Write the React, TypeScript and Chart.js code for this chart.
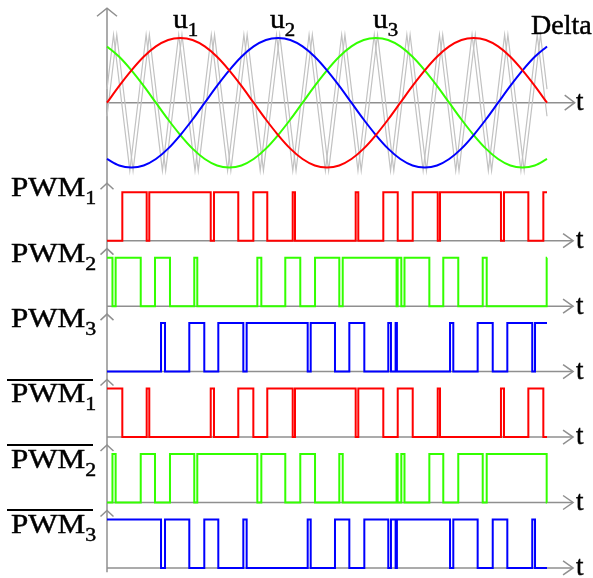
import React, { useEffect, useRef } from 'react';
import { Chart, registerables } from 'chart.js';

Chart.register(...registerables);

// ---------------- data (angle in degrees of the reference wave) ----------------
const theta = [0, 15, 30, 45, 60, 75, 90, 105, 120, 135, 150, 165, 180, 195, 210, 225, 240, 255, 270, 285, 300, 315, 330, 345, 360, 375, 390, 405, 420, 435, 450, 465, 480, 495, 510, 525, 540];
const u1 = [0, 0.26, 0.5, 0.71, 0.87, 0.97, 1, 0.97, 0.87, 0.71, 0.5, 0.26, 0, -0.26, -0.5, -0.71, -0.87, -0.97, -1, -0.97, -0.87, -0.71, -0.5, -0.26, 0, 0.26, 0.5, 0.71, 0.87, 0.97, 1, 0.97, 0.87, 0.71, 0.5, 0.26, 0];
const u2 = [-0.87, -0.97, -1, -0.97, -0.87, -0.71, -0.5, -0.26, 0, 0.26, 0.5, 0.71, 0.87, 0.97, 1, 0.97, 0.87, 0.71, 0.5, 0.26, 0, -0.26, -0.5, -0.71, -0.87, -0.97, -1, -0.97, -0.87, -0.71, -0.5, -0.26, 0, 0.26, 0.5, 0.71, 0.87];
const u3 = [0.87, 0.71, 0.5, 0.26, 0, -0.26, -0.5, -0.71, -0.87, -0.97, -1, -0.97, -0.87, -0.71, -0.5, -0.26, 0, 0.26, 0.5, 0.71, 0.87, 0.97, 1, 0.97, 0.87, 0.71, 0.5, 0.26, 0, -0.26, -0.5, -0.71, -0.87, -0.97, -1, -0.97, -0.87];

// triangular carrier "Delta" (drawn as two slightly shifted traces, as in the picture)
const carrierTimesA = [0, 8, 28, 48, 68, 88, 108, 128, 148, 168, 188, 208, 228, 248, 268, 288, 308, 328, 348, 368, 388, 408, 428, 448, 468, 488, 508, 528, 540];
const carrierValuesA = [0.21, 1.05, -1.05, 1.05, -1.05, 1.05, -1.05, 1.05, -1.05, 1.05, -1.05, 1.05, -1.05, 1.05, -1.05, 1.05, -1.05, 1.05, -1.05, 1.05, -1.05, 1.05, -1.05, 1.05, -1.05, 1.05, -1.05, 1.05, -0.21];
const carrierTimesB = [0, 12, 32, 52, 72, 92, 112, 132, 152, 172, 192, 212, 232, 252, 272, 292, 312, 332, 352, 372, 392, 412, 432, 452, 472, 492, 512, 532, 540];
const carrierValuesB = [-0.21, 1.05, -1.05, 1.05, -1.05, 1.05, -1.05, 1.05, -1.05, 1.05, -1.05, 1.05, -1.05, 1.05, -1.05, 1.05, -1.05, 1.05, -1.05, 1.05, -1.05, 1.05, -1.05, 1.05, -1.05, 1.05, -1.05, 1.05, 0.21];

// PWM switching instants and the level held from each instant on
const pwm1Times = [0, 18.8, 48.7, 51.9, 127.3, 131.3, 161.1, 179.6, 196.7, 227.9, 230.7, 305.2, 308.4, 339.1, 356.8, 375.2, 405.9, 408.7, 483.5, 487.2, 517.1, 535.5, 540];
const pwm1Levels = [0, 1, 0, 1, 0, 1, 0, 1, 0, 1, 0, 1, 0, 1, 0, 1, 0, 1, 0, 1, 0, 1, 1];
const pwm2Times = [0, 6.7, 10.6, 41.4, 58.9, 77.3, 107.1, 110.8, 184.5, 189.4, 218.8, 237.2, 255.3, 285.1, 289.3, 355.4, 356.7, 361.2, 365.1, 395.6, 412.7, 431.1, 461.1, 466.0, 539.6, 540];
const pwm2Levels = [1, 0, 1, 0, 1, 0, 1, 0, 1, 0, 1, 0, 1, 0, 1, 0, 1, 0, 1, 0, 1, 0, 1, 0, 1, 1];
const pwm3Times = [0, 66.3, 71.2, 101.0, 119.4, 136.6, 167.3, 171.4, 246.3, 250.0, 279.8, 297.4, 315.8, 345.2, 348.5, 354.2, 355.8, 421.0, 425.0, 454.9, 473.4, 491.3, 521.9, 525.3, 540];
const pwm3Levels = [0, 1, 0, 1, 0, 1, 0, 1, 0, 1, 0, 1, 0, 1, 0, 1, 0, 1, 0, 1, 0, 1, 0, 1, 1];

const seriesNames = ['u', 'u', 'u'];
const seriesSubs = ['1', '2', '3'];
const carrierName = 'Delta';
const rowNames = ['PWM', 'PWM', 'PWM', 'PWM', 'PWM', 'PWM'];
const rowSubs = ['1', '2', '3', '1', '2', '3'];
const rowBarred = [false, false, false, true, true, true];
const axisLabel = 't';

// ---------------- layout / style ----------------
const W = 593;
const H = 578;
const X0 = 107;
const PX_PER_DEG = 440 / 540;
const TOP_ZERO = 102.7;
const TOP_UNIT = 64.7;
const ROW_BASE = [240.7, 306.15, 371.6, 437.05, 502.5, 567.95];
const PULSE_H = 48.5;
const RED = '#ff0000';
const GREEN = '#33ff00';
const BLUE = '#0000ff';
const AXIS = '#8f8f8f';
const FONT = '"Liberation Serif", "Times New Roman", serif';

const rowId = (k: number) => 'yRow' + k;
const pts = (xs: number[], ys: number[]) => xs.map((x, i) => ({ x, y: ys[i] }));

const axisPlugin = {
  id: 'axesDeco',
  beforeDatasetsDraw(chart: any) {
    const ctx = chart.ctx;
    const xs = chart.scales.x;
    const x0 = xs.getPixelForValue(0);
    ctx.save();
    ctx.strokeStyle = AXIS;
    ctx.lineWidth = 1.5;
    ctx.lineCap = 'butt';
    const yTopS = chart.scales.yTop;
    const topTip = yTopS.getPixelForValue(1.46);
    const bottomEnd = chart.scales[rowId(5)].getPixelForValue(-0.09);
    ctx.beginPath();
    ctx.moveTo(x0, topTip);
    ctx.lineTo(x0, bottomEnd);
    ctx.stroke();
    ctx.beginPath();
    ctx.moveTo(x0 - 10, topTip + 8);
    ctx.lineTo(x0, topTip);
    ctx.lineTo(x0 + 10, topTip + 8);
    ctx.stroke();
    const yz = yTopS.getPixelForValue(0);
    const tipTop = xs.getPixelForValue(574);
    ctx.beginPath();
    ctx.moveTo(x0, yz);
    ctx.lineTo(tipTop, yz);
    ctx.stroke();
    ctx.beginPath();
    ctx.moveTo(tipTop - 10, yz - 7.5);
    ctx.lineTo(tipTop, yz);
    ctx.lineTo(tipTop - 10, yz + 7.5);
    ctx.stroke();
    const tipRow = xs.getPixelForValue(572);
    for (let k = 0; k < 6; k++) {
      const s = chart.scales[rowId(k)];
      const yb = s.getPixelForValue(0);
      const ya = s.getPixelForValue(1.186);
      ctx.beginPath();
      ctx.moveTo(x0 - 6.5, ya + 6);
      ctx.lineTo(x0, ya);
      ctx.lineTo(x0 + 6.5, ya + 6);
      ctx.stroke();
      ctx.beginPath();
      ctx.moveTo(x0, yb);
      ctx.lineTo(tipRow, yb);
      ctx.stroke();
      ctx.beginPath();
      ctx.moveTo(tipRow - 10, yb - 7);
      ctx.lineTo(tipRow, yb);
      ctx.lineTo(tipRow - 10, yb + 7);
      ctx.stroke();
    }
    ctx.restore();
  },
};

function Txt(props: { left: number; baseline: number; size: number; sx?: number; children: any }) {
  const { left, baseline, size, sx = 1, children } = props;
  return (
    <div
      style={{
        position: 'absolute',
        left,
        top: baseline - 0.8375 * size,
        fontFamily: FONT,
        fontSize: size,
        lineHeight: `${size}px`,
        whiteSpace: 'nowrap',
        color: '#000',
        WebkitTextStroke: '0.45px #000',
        transform: `scaleX(${sx})`,
        transformOrigin: 'left top',
      }}
    >
      {children}
    </div>
  );
}

function Sub(props: { children: any }) {
  return (
    <span style={{ fontSize: 19, position: 'relative', top: 8, lineHeight: 0 }}>{props.children}</span>
  );
}

export default function App() {
  const ref = useRef<HTMLCanvasElement>(null);

  useEffect(() => {
    if (!ref.current) return;
    const rowScales: any = {};
    ROW_BASE.forEach((b, k) => {
      rowScales[rowId(k)] = { type: 'linear', axis: 'y', position: 'left', display: false, min: -(H - b) / PULSE_H, max: b / PULSE_H };
    });
    const sine = (label: string, data: number[], color: string) => ({
      label,
      data: pts(theta, data),
      yAxisID: 'yTop',
      borderColor: color,
      borderWidth: 2,
      pointRadius: 0,
      cubicInterpolationMode: 'monotone',
      fill: false,
      order: 1,
    });
    const carrier = (label: string, t: number[], v: number[]) => ({
      label,
      data: pts(t, v),
      yAxisID: 'yTop',
      borderColor: '#c2c2c2',
      borderWidth: 1.2,
      pointRadius: 0,
      tension: 0,
      fill: false,
      order: 2,
    });
    const pwm = (label: string, t: number[], lv: number[], row: number, color: string, invert: boolean) => ({
      label,
      data: pts(t, lv.map((l) => (invert ? 1 - l : l))),
      yAxisID: rowId(row),
      borderColor: color,
      borderWidth: 2,
      pointRadius: 0,
      stepped: 'before',
      fill: false,
      borderJoinStyle: 'miter',
      order: 1,
    });
    const chart = new Chart(ref.current, {
      type: 'line',
      data: {
        datasets: [
          sine('u1', u1, RED),
          sine('u2', u2, BLUE),
          sine('u3', u3, GREEN),
          carrier('Delta a', carrierTimesA, carrierValuesA),
          carrier('Delta b', carrierTimesB, carrierValuesB),
          pwm('PWM1', pwm1Times, pwm1Levels, 0, RED, false),
          pwm('PWM2', pwm2Times, pwm2Levels, 1, GREEN, false),
          pwm('PWM3', pwm3Times, pwm3Levels, 2, BLUE, false),
          pwm('PWM1 bar', pwm1Times, pwm1Levels, 3, RED, true),
          pwm('PWM2 bar', pwm2Times, pwm2Levels, 4, GREEN, true),
          pwm('PWM3 bar', pwm3Times, pwm3Levels, 5, BLUE, true),
        ] as any,
      },
      options: {
        animation: false,
        responsive: false,
        devicePixelRatio: 1,
        events: [],
        layout: { padding: 0 },
        plugins: { legend: { display: false }, tooltip: { enabled: false }, title: { display: false } },
        scales: {
          x: { type: 'linear', display: false, min: -X0 / PX_PER_DEG, max: (W - X0) / PX_PER_DEG },
          yTop: { type: 'linear', axis: 'y', position: 'left', display: false, min: -(H - TOP_ZERO) / TOP_UNIT, max: TOP_ZERO / TOP_UNIT },
          ...rowScales,
        },
      } as any,
      plugins: [axisPlugin],
    });
    return () => chart.destroy();
  }, []);

  const seriesLeft = [173, 270, 373];

  return (
    <div style={{ position: 'fixed', left: 0, top: 0, width: W, height: H, background: '#fff', overflow: 'hidden' }}>
      <canvas ref={ref} width={W} height={H} style={{ position: 'absolute', left: 0, top: 0, width: W, height: H }} />
      {seriesNames.map((n, i) => (
        <Txt key={'s' + i} left={seriesLeft[i]} baseline={29} size={27} sx={1.1}>
          {n}
          <Sub>{seriesSubs[i]}</Sub>
        </Txt>
      ))}
      <Txt left={531} baseline={35} size={27} sx={1.04}>
        {carrierName}
      </Txt>
      <Txt left={576} baseline={TOP_ZERO + 8} size={27}>
        {axisLabel}
      </Txt>
      {ROW_BASE.map((b, k) => (
        <React.Fragment key={'r' + k}>
          <Txt left={576} baseline={b + 8} size={27}>
            {axisLabel}
          </Txt>
          <Txt left={11} baseline={rowBarred[k] ? b - 34 : b - 44} size={27} sx={1.15}>
            {rowNames[k]}
            <Sub>{rowSubs[k]}</Sub>
          </Txt>
          {rowBarred[k] && (
            <div style={{ position: 'absolute', left: 7, top: b - 58.5, width: 86, height: 2, background: '#000' }} />
          )}
        </React.Fragment>
      ))}
    </div>
  );
}
